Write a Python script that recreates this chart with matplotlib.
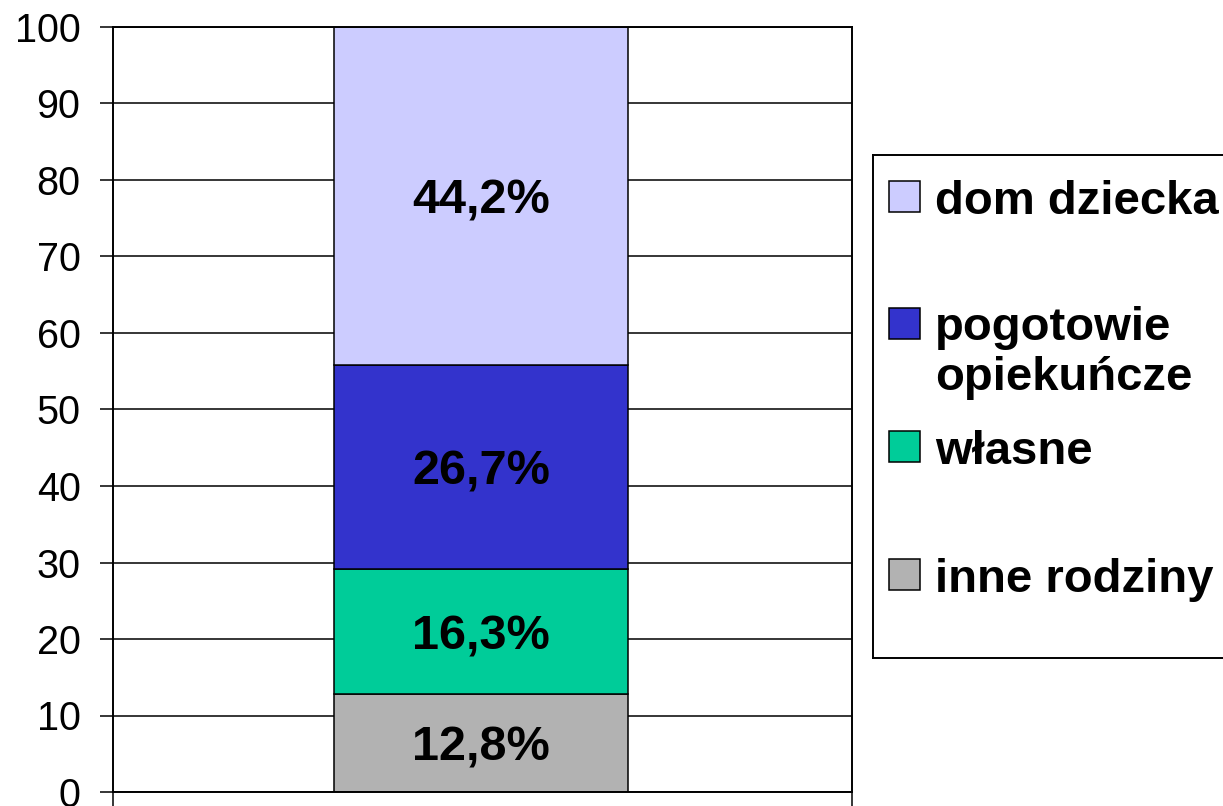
import matplotlib
matplotlib.use("Agg")
import matplotlib.pyplot as plt
from matplotlib.patches import Rectangle

plt.rcParams['font.family'] = ['Liberation Sans', 'DejaVu Sans']

# data, bottom to top
categories = ["inne rodziny", "własne", "pogotowie\nopiekuńcze", "dom dziecka"]
values = [12.8, 16.3, 26.7, 44.2]
labels = ["12,8%", "16,3%", "26,7%", "44,2%"]
colors = ["#B2B2B2", "#00CC99", "#3333CC", "#CCCCFF"]
yticks = [0, 10, 20, 30, 40, 50, 60, 70, 80, 90, 100]

fig = plt.figure(figsize=(12.23, 8.06), dpi=100)
ax = fig.add_axes([113 / 1223, 14 / 806, 739 / 1223, 765 / 806])

ax.set_xlim(0, 1)
ax.set_ylim(0, 100)
for y in yticks:
    ax.axhline(y, color="black", lw=1.1, zorder=1)

bottom = 0
for val, lab, col in zip(values, labels, colors):
    ax.bar(0.498, val, width=0.398, bottom=bottom, color=col,
           edgecolor="black", lw=1.1, zorder=2)
    # digits centred on the segment (baseline shifted down by half the cap height)
    ax.annotate(lab, (0.498, bottom + val / 2), xytext=(0, -12.5),
                textcoords="offset points", ha="center", va="baseline",
                fontsize=35, fontweight="bold", zorder=3)
    bottom += val

ax.set_yticks(yticks)
ax.tick_params(axis="y", labelsize=28.5, length=9.4, width=1.1, pad=14,
               direction="out")
ax.set_xticks([0, 1])
ax.set_xticklabels([])
ax.tick_params(axis="x", length=10, width=1.1, direction="out")
for sp in ax.spines.values():
    sp.set_linewidth(1.4)
    sp.set_color("black")

# legend box (Excel style, handles equally spaced)
lax = fig.add_axes([873 / 1223, 148 / 806, 400 / 1223, 503 / 806])
lax.set_xlim(0, 400)
lax.set_ylim(503, 0)
lax.set_xticks([])
lax.set_yticks([])
for sp in lax.spines.values():
    sp.set_linewidth(1.4)

centers = [41, 168, 292, 419]
for name, col, cy in zip(categories[::-1], colors[::-1], centers):
    lax.add_patch(Rectangle((16, cy - 15.5), 31, 31, facecolor=col,
                            edgecolor="black", lw=1.1))
    for i, line in enumerate(name.split("\n")):
        lax.text(62, cy + 17.5 + i * 50, line, ha="left", va="baseline",
                 fontsize=34, fontweight="bold")

fig.savefig("out.png", dpi=100)
